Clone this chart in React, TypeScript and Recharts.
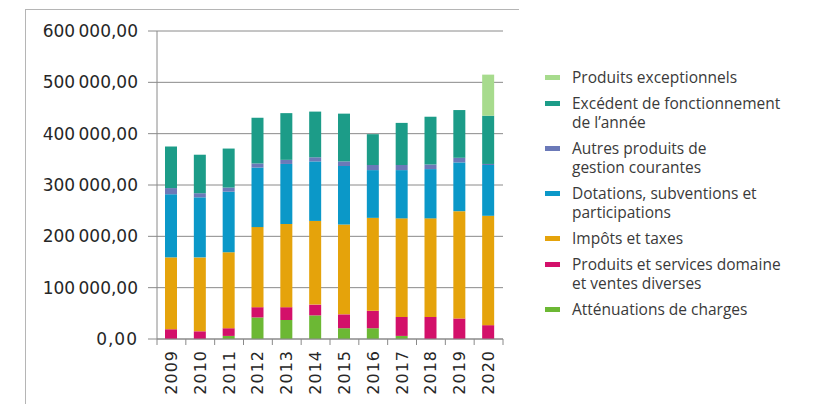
import React from "react";
import { BarChart, Bar, XAxis, YAxis, CartesianGrid } from "recharts";

const years = ["2009", "2010", "2011", "2012", "2013", "2014", "2015", "2016", "2017", "2018", "2019", "2020"];

// values (euros)
const attenuations = [0, 0, 6000, 42000, 37000, 46000, 21000, 21000, 6000, 0, 0, 0];
const produitsServices = [19000, 15000, 15000, 20000, 25000, 21000, 27000, 34000, 37000, 43000, 40000, 27000];
const impots = [140000, 144000, 148000, 156000, 162000, 163000, 175000, 181000, 192000, 192000, 209000, 213000];
const dotations = [123000, 117000, 118000, 116000, 117000, 116000, 114000, 93000, 94000, 96000, 95000, 99000];
const autres = [12000, 8000, 8000, 8000, 8000, 8000, 9000, 10000, 10000, 9000, 9000, 2000];
const excedent = [81000, 75000, 76000, 89000, 91000, 89000, 93000, 60000, 82000, 93000, 93000, 94000];
const exceptionnels = [0, 0, 0, 0, 0, 0, 0, 0, 0, 0, 0, 80000];

const yTicks = [0, 100000, 200000, 300000, 400000, 500000, 600000];

// stacking order, bottom first
const series = [
  { key: "attenuations", name: "Atténuations de charges", color: "#6cb834", values: attenuations },
  { key: "produitsServices", name: "Produits et services domaine\net ventes diverses", color: "#d3106a", values: produitsServices },
  { key: "impots", name: "Impôts et taxes", color: "#e5a30b", values: impots },
  { key: "dotations", name: "Dotations, subventions et\nparticipations", color: "#0b98c8", values: dotations },
  { key: "autres", name: "Autres produits de\ngestion courantes", color: "#6b79b8", values: autres },
  { key: "excedent", name: "Excédent de fonctionnement\nde l’année", color: "#1c9c88", values: excedent },
  { key: "exceptionnels", name: "Produits exceptionnels", color: "#a7db8d", values: exceptionnels },
];

const data = years.map((year, i) => {
  const row: Record<string, number | string> = { year };
  for (const s of series) row[s.key] = s.values[i];
  return row;
});

/* ── layout ── */
const CHART_W = 520;
const CHART_H = 404;
const PLOT_LEFT = 157;
const PLOT_RIGHT = 503;
const PLOT_TOP = 31;
const PLOT_BOTTOM = 339;
const BAND = (PLOT_RIGHT - PLOT_LEFT) / years.length;

const axisGray = "#8a8a8a";
const labelColor = "#262626";

function formatFr(v: number) {
  const [int, dec] = v.toFixed(2).split(".");
  return int.replace(/\B(?=(\d{3})+(?!\d))/g, "\u202f") + "," + dec;
}

function ValueTick(props: any) {
  const { x, y, payload } = props;
  return (
    <text
      x={x}
      y={y}
      textAnchor="end"
      dominantBaseline="central"
      fill={labelColor}
      fontSize={17}
      letterSpacing={1}
      fontFamily="DejaVu Sans"
    >
      {formatFr(payload.value)}
    </text>
  );
}

function YearTick(props: any) {
  const { x, payload, index } = props;
  const ty = PLOT_BOTTOM + 11;
  const left = x - BAND / 2;
  return (
    <g>
      <line x1={left} y1={PLOT_BOTTOM} x2={left} y2={PLOT_BOTTOM + 6} stroke={axisGray} />
      {index === years.length - 1 && (
        <line x1={x + BAND / 2} y1={PLOT_BOTTOM} x2={x + BAND / 2} y2={PLOT_BOTTOM + 6} stroke={axisGray} />
      )}
      <text
        x={x}
        y={ty}
        transform={`rotate(-90, ${x}, ${ty})`}
        textAnchor="end"
        dominantBaseline="central"
        fill={labelColor}
        fontSize={16}
        letterSpacing={1}
        fontFamily="DejaVu Sans"
      >
        {payload.value}
      </text>
    </g>
  );
}

function LegendBox() {
  const items = [...series].reverse();
  return (
    <div
      style={{
        position: "absolute",
        left: 545,
        top: 68,
        fontFamily: "'Open Sans', sans-serif",
        fontSize: 15.5,
        lineHeight: "19px",
        color: "#3a3a3a",
      }}
    >
      {items.map((s) => (
        <div key={s.key} style={{ display: "flex", alignItems: "flex-start", marginBottom: 7 }}>
          <span
            style={{
              display: "inline-block",
              width: 15,
              height: 5,
              background: s.color,
              marginTop: 7,
              marginRight: 12,
              flexShrink: 0,
            }}
          />
          <span style={{ whiteSpace: "pre-line" }}>{s.name}</span>
        </div>
      ))}
    </div>
  );
}

export default function App() {
  return (
    <div
      style={{
        position: "absolute",
        left: 0,
        top: 0,
        width: 831,
        height: 404,
        overflow: "hidden",
        background: "#fff",
      }}
    >
      {/* outer frame, top and left edges only */}
      <div
        style={{
          position: "absolute",
          left: 25,
          top: 9,
          width: 493,
          height: 400,
          borderTop: "1px solid #b5b5b5",
          borderLeft: "1px solid #b5b5b5",
        }}
      />
      <div style={{ position: "absolute", left: 0, top: 0 }}>
        <BarChart
          width={CHART_W}
          height={CHART_H}
          data={data}
          margin={{ top: PLOT_TOP, right: CHART_W - PLOT_RIGHT, left: 0, bottom: 0 }}
        >
          <CartesianGrid vertical={false} stroke={axisGray} />
          <XAxis
            dataKey="year"
            height={CHART_H - PLOT_BOTTOM}
            stroke={axisGray}
            tickLine={false}
            interval={0}
            tick={<YearTick />}
          />
          <YAxis
            width={PLOT_LEFT}
            domain={[0, 600000]}
            ticks={yTicks}
            stroke={axisGray}
            tickSize={9}
            tickMargin={10}
            tick={<ValueTick />}
            interval={0}
          />
          {series.map((s) => (
            <Bar
              key={s.key}
              dataKey={s.key}
              name={s.name}
              stackId="a"
              fill={s.color}
              barSize={12}
              isAnimationActive={false}
            />
          ))}
        </BarChart>
      </div>
      <LegendBox />
    </div>
  );
}
